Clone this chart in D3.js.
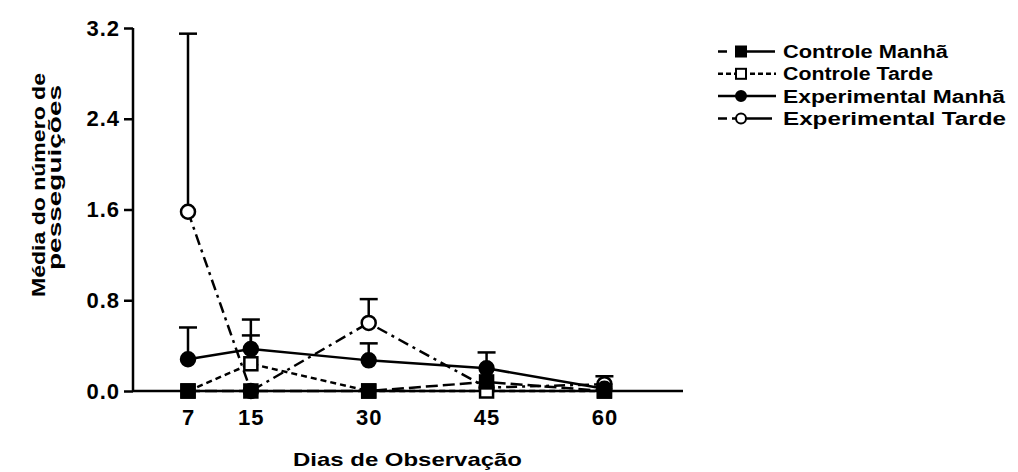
<!DOCTYPE html>
<html><head><meta charset="utf-8">
<script src="https://cdn.jsdelivr.net/npm/d3@7"></script>
<style>
html,body{margin:0;padding:0;background:#fff;}
svg{display:block;font-family:"Liberation Sans",Arial,sans-serif;}
</style></head>
<body><svg id="c" width="1018" height="472"></svg>
<script>
const days = [7, 15, 30, 45, 60];
const xTicks = [7, 15, 30, 45, 60];
const yTicks = [0, 0.8, 1.6, 2.4, 3.2];
const seriesNames = ["Controle Manhã", "Controle Tarde", "Experimental Manhã", "Experimental Tarde"];
const controleManha = [0, 0, 0, 0.08, 0];
const controleManhaErr = [0, 0, 0, 0, 0];
const controleTarde = [0, 0.24, 0, 0, 0];
const controleTardeErr = [0, 0.25, 0, 0, 0];
const expManha = [0.28, 0.37, 0.27, 0.20, 0.02];
const expManhaErr = [0.28, 0.26, 0.15, 0.14, 0];
const expTarde = [1.58, 0, 0.60, 0.03, 0.06];
const expTardeErr = [1.57, 0, 0.21, 0, 0.07];

const series = [
  {name: seriesNames[3], vals: expTarde, err: expTardeErr, shape: "circle", fill: "#fff", dash: "11,5,3,5", ldash: "9,5,40"},
  {name: seriesNames[2], vals: expManha, err: expManhaErr, shape: "circle", fill: "#000", dash: null, ldash: null},
  {name: seriesNames[1], vals: controleTarde, err: controleTardeErr, shape: "square", fill: "#fff", dash: "6,4", ldash: "5,3"},
  {name: seriesNames[0], vals: controleManha, err: controleManhaErr, shape: "square", fill: "#000", dash: "12,5", ldash: "9,8,40"}
];

const svg = d3.select("#c");
const x = d3.scaleLinear().domain([0, 70]).range([133, 683]);
const y = d3.scaleLinear().domain([0, 3.2]).range([391, 28]);

// axes
const xAxis = svg.append("g").attr("transform", `translate(0,${y(0)})`)
  .call(d3.axisBottom(x).tickValues(xTicks).tickSize(6).tickPadding(12).tickFormat(d3.format("d")));
const yAxis = svg.append("g").attr("transform", `translate(${x(0)},0)`)
  .call(d3.axisLeft(y).tickValues(yTicks).tickSize(9).tickPadding(4).tickFormat(d3.format(".1f")));
[xAxis, yAxis].forEach(a => {
  a.select(".domain").attr("stroke", "#000").attr("stroke-width", 2.5);
  a.selectAll(".tick line").attr("stroke", "#000").attr("stroke-width", 2.5);
  a.selectAll(".tick text").attr("fill", "#000").attr("font-size", 22).attr("font-weight", "bold")
    .attr("font-family", "Liberation Sans, Arial, sans-serif").attr("letter-spacing", 1);
});
xAxis.select(".domain").attr("d", `M${x(0)},0H${x(70)}`);
yAxis.select(".domain").attr("d", `M0,${y(3.2)}V${y(0)}`);

const line = d3.line().x((d, i) => x(days[i])).y(d => y(d));
const plot = svg.append("g");
// lines
series.forEach(s => {
  plot.append("path").datum(s.vals).attr("d", line).attr("fill", "none")
    .attr("stroke", "#000").attr("stroke-width", 2.5)
    .attr("stroke-dasharray", s.dash);
});
// error bars + markers
const capW = 9, sq = 13, r = 7;
series.forEach(s => {
  const g = plot.append("g");
  s.vals.forEach((v, i) => {
    const e = s.err[i];
    if (e > 0) {
      g.append("line").attr("x1", x(days[i])).attr("x2", x(days[i])).attr("y1", y(v)).attr("y2", y(v + e))
        .attr("stroke", "#000").attr("stroke-width", 2.5);
      g.append("line").attr("x1", x(days[i]) - capW).attr("x2", x(days[i]) + capW).attr("y1", y(v + e)).attr("y2", y(v + e))
        .attr("stroke", "#000").attr("stroke-width", 2.5);
    }
  });
  s.vals.forEach((v, i) => {
    if (s.shape === "circle") {
      g.append("circle").attr("cx", x(days[i])).attr("cy", y(v)).attr("r", r)
        .attr("fill", s.fill).attr("stroke", "#000").attr("stroke-width", 2.5);
    } else {
      g.append("rect").attr("x", x(days[i]) - sq / 2).attr("y", y(v) - sq / 2).attr("width", sq).attr("height", sq)
        .attr("fill", s.fill).attr("stroke", "#000").attr("stroke-width", 2.5);
    }
  });
});

// legend
const legendOrder = [series[3], series[2], series[1], series[0]];
const legendWidths = [165, 150, 222, 223];
const lg = svg.append("g");
legendOrder.forEach((s, i) => {
  const by = 58 + i * 22.3;
  const cy = by - 6.5;
  lg.append("line").attr("x1", 718).attr("x2", 776).attr("y1", cy).attr("y2", cy)
    .attr("stroke", "#000").attr("stroke-width", 2.5).attr("stroke-dasharray", s.ldash);
  if (s.shape === "circle") {
    lg.append("circle").attr("cx", 741).attr("cy", cy).attr("r", 5).attr("fill", s.fill).attr("stroke", "#000").attr("stroke-width", 2);
  } else {
    lg.append("rect").attr("x", 736).attr("y", cy - 5).attr("width", 10).attr("height", 10).attr("fill", s.fill).attr("stroke", "#000").attr("stroke-width", 2);
  }
  lg.append("text").attr("x", 783).attr("y", by).attr("font-size", 18).attr("font-weight", "bold")
    .attr("textLength", legendWidths[i]).attr("lengthAdjust", "spacingAndGlyphs").text(s.name);
});

// axis titles
svg.append("text").attr("x", 293).attr("y", 466).attr("font-size", 19).attr("font-weight", "bold")
  .attr("textLength", 229).attr("lengthAdjust", "spacingAndGlyphs").text("Dias de Observação");
const yt = svg.append("g").attr("transform", "rotate(-90)");
yt.append("text").attr("x", -297).attr("y", 45).attr("font-size", 18).attr("font-weight", "bold")
  .attr("textLength", 224).attr("lengthAdjust", "spacingAndGlyphs").text("Média do número de");
yt.append("text").attr("x", -270).attr("y", 61).attr("font-size", 18).attr("font-weight", "bold")
  .attr("textLength", 185).attr("lengthAdjust", "spacingAndGlyphs").text("pesseguições");
</script></body></html>
